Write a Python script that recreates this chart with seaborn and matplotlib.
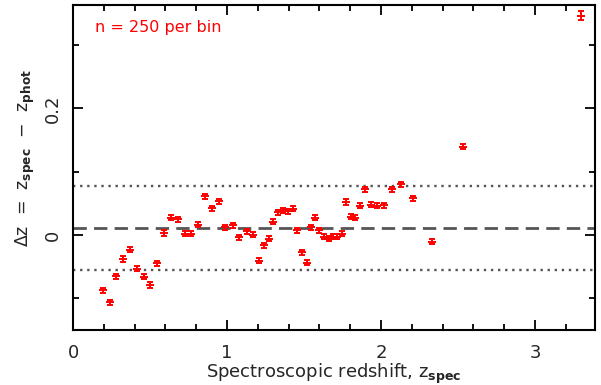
import numpy as np
import pandas as pd
import matplotlib
matplotlib.use("Agg")
import matplotlib.pyplot as plt
from matplotlib.ticker import MultipleLocator
import seaborn as sns

# Binned photometric-redshift residuals (250 galaxies per bin)
z_spec = [0.197, 0.240, 0.279, 0.327, 0.370, 0.416, 0.459, 0.502, 0.547, 0.593,
          0.636, 0.680, 0.725, 0.768, 0.812, 0.857, 0.901, 0.946, 0.989, 1.036,
          1.081, 1.128, 1.171, 1.208, 1.238, 1.271, 1.301, 1.331, 1.362, 1.394,
          1.427, 1.456, 1.489, 1.519, 1.544, 1.569, 1.599, 1.630, 1.660, 1.686,
          1.714, 1.747, 1.773, 1.803, 1.833, 1.866, 1.898, 1.935, 1.974, 2.019,
          2.071, 2.130, 2.211, 2.329, 2.532, 3.297]
delta_z = [-0.087, -0.106, -0.065, -0.038, -0.023, -0.053, -0.066, -0.079, -0.045, 0.003,
           0.027, 0.025, 0.002, 0.002, 0.016, 0.061, 0.042, 0.053, 0.012, 0.015,
           -0.004, 0.006, 0.000, -0.041, -0.016, -0.006, 0.021, 0.036, 0.039, 0.037,
           0.041, 0.007, -0.027, -0.044, 0.012, 0.027, 0.007, -0.003, -0.006, -0.003,
           -0.003, 0.002, 0.052, 0.029, 0.027, 0.046, 0.072, 0.048, 0.046, 0.047,
           0.072, 0.080, 0.058, -0.011, 0.139, 0.346]
delta_err = [0.004] * 55 + [0.007]

median_dz = 0.011
scatter_band = 0.067

x_ticks = [0, 1, 2, 3]
y_ticks = [0, 0.2]

df = pd.DataFrame({"z_spec": z_spec, "delta_z": delta_z, "err": delta_err})

sns.set_style("ticks")
plt.rcParams["font.family"] = ["DejaVu Sans"]
plt.rcParams["mathtext.fontset"] = "dejavusans"

fig = plt.figure(figsize=(6.01, 3.85), dpi=100)
ax = fig.add_axes([0.1215, 0.143, 0.8685, 0.844])

# reference lines: median offset and scatter band
ax.axhline(median_dz, color="#555555", lw=2.0, dashes=(4.8, 2.6), zorder=1)
ax.axhline(median_dz + scatter_band, color="#555555", lw=1.7, dashes=(1, 2.0), zorder=1)
ax.axhline(median_dz - scatter_band, color="#555555", lw=1.7, dashes=(1, 2.0), zorder=1)

ax.errorbar(df["z_spec"], df["delta_z"], yerr=df["err"], fmt="none",
            ecolor="red", elinewidth=1.4, capsize=2.5, capthick=1.4, zorder=3)
sns.scatterplot(data=df, x="z_spec", y="delta_z", marker="_", s=32,
                color="red", linewidth=1.4, ax=ax, zorder=4, legend=False)

ax.set_xlim(0, 3.39)
ax.set_ylim(-0.150, 0.363)

ax.xaxis.set_major_locator(MultipleLocator(1))
ax.xaxis.set_minor_locator(MultipleLocator(0.2))
ax.yaxis.set_major_locator(MultipleLocator(0.2))
ax.yaxis.set_minor_locator(MultipleLocator(0.1))
ax.set_xticks(x_ticks)
ax.set_xticklabels([str(t) for t in x_ticks])
ax.set_yticks(y_ticks)
ax.set_yticklabels(["0", "0.2"], rotation=90, va="center")

ax.tick_params(which="both", direction="in", top=True, right=True,
               color="black", width=1.3, labelsize=13)
ax.tick_params(axis="x", pad=10)
ax.tick_params(axis="y", pad=8)
ax.tick_params(which="major", length=7)
ax.tick_params(which="minor", length=4)
for sp in ax.spines.values():
    sp.set_linewidth(1.5)
    sp.set_color("black")

ax.set_xlabel(r"Spectroscopic redshift, z$_{\mathbf{spec}}$", fontsize=13, labelpad=0)
ax.set_ylabel(r"$\Delta$z  =  z$_{\mathbf{spec}}$  $-$  z$_{\mathbf{phot}}$",
              fontsize=12.5, labelpad=5, y=0.53)

ax.text(0.042, 0.93, "n = 250 per bin", transform=ax.transAxes, color="red",
        fontsize=11.5, va="center", ha="left")

fig.savefig("out.png", dpi=100)
